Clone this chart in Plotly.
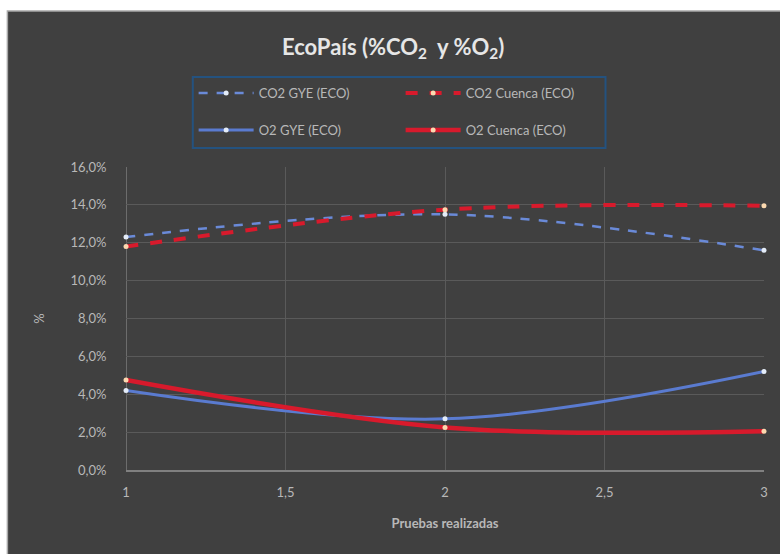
import plotly.graph_objects as go

x_vals = [1, 2, 3]
co2_gye = [12.3, 13.5, 11.6]
co2_cuenca = [11.8, 13.75, 13.95]
o2_gye = [4.2, 2.7, 5.2]
o2_cuenca = [4.75, 2.25, 2.05]

names = ["CO2 GYE (ECO)", "CO2 Cuenca (ECO)", "O2 GYE (ECO)", "O2 Cuenca (ECO)"]
y_ticks = [0, 2, 4, 6, 8, 10, 12, 14, 16]
y_ticktext = [f"{v:.1f}%".replace(".", ",") for v in y_ticks]
x_ticks = [1, 1.5, 2, 2.5, 3]
x_ticktext = ["1", "1,5", "2", "2,5", "3"]

BG = "#404040"
BLUE = "#5a7bd0"
RED = "#d81a2c"
TXT = "#b8b8b8"
FONT = "Lato"

fig = go.Figure()
fig.add_trace(go.Scatter(x=x_vals, y=co2_gye, name=names[0], mode="lines+markers",
                         line=dict(color="#6a8ad8", width=2.5, dash="dash", shape="spline"),
                         marker=dict(size=5, color="#e4ecf8"), legend="legend", cliponaxis=False))
fig.add_trace(go.Scatter(x=x_vals, y=co2_cuenca, name=names[1], mode="lines+markers",
                         line=dict(color=RED, width=4, dash="dash", shape="spline"),
                         marker=dict(size=5, color="#fbd9b0"), legend="legend", cliponaxis=False))
fig.add_trace(go.Scatter(x=x_vals, y=o2_gye, name=names[2], mode="lines+markers",
                         line=dict(color=BLUE, width=3, shape="spline"),
                         marker=dict(size=5, color="#e4ecf8"), legend="legend2", cliponaxis=False))
fig.add_trace(go.Scatter(x=x_vals, y=o2_cuenca, name=names[3], mode="lines+markers",
                         line=dict(color=RED, width=4.5, shape="spline"),
                         marker=dict(size=5, color="#fbd9b0"), legend="legend2", cliponaxis=False))

legend_common = dict(orientation="h", x=0.106, xanchor="left", yanchor="middle",
                     bgcolor="rgba(0,0,0,0)", borderwidth=0,
                     font=dict(family=FONT, size=13, color=TXT),
                     entrywidth=137, entrywidthmode="pixels", itemwidth=55,
                     traceorder="normal")

fig.update_layout(
    width=780, height=554,
    margin=dict(l=126, r=14, t=167, b=84),
    paper_bgcolor="white",
    plot_bgcolor="rgba(0,0,0,0)",
    separators=",.",
    title=dict(text="<b>EcoPaís (%CO<sub>2</sub>  y %O<sub>2</sub>)</b>", x=0.504, xanchor="center",
               y=0.915, yanchor="middle", font=dict(family=FONT, size=22, color="#e6e6e6")),
    legend=dict(y=1.244, **legend_common),
    legend2=dict(y=1.122, **legend_common),
    xaxis=dict(range=[0.9999, 3.0001], tickvals=x_ticks, ticktext=x_ticktext, showgrid=True,
               gridcolor="#5a5a5a", gridwidth=1, zeroline=False, showline=True, linecolor="#808080",
               linewidth=1.5, ticks="outside", ticklen=10, tickcolor="rgba(0,0,0,0)",
               tickfont=dict(family=FONT, size=13, color=TXT),
               title=dict(text="<b>Pruebas realizadas</b>", standoff=20,
                          font=dict(family=FONT, size=13, color=TXT))),
    yaxis=dict(range=[0, 16.001], tickvals=y_ticks, ticktext=y_ticktext, showgrid=True,
               gridcolor="#5a5a5a", gridwidth=1, zeroline=False, showline=False,
               ticks="outside", ticklen=16, tickcolor="rgba(0,0,0,0)",
               tickfont=dict(family=FONT, size=13, color=TXT),
               title=dict(text="%", standoff=22, font=dict(family=FONT, size=13, color=TXT))),
    shapes=[
        dict(type="rect", xref="paper", yref="paper", x0=-0.1859, x1=1.05, y0=-0.4, y1=1.5149,
             fillcolor=BG, line=dict(color="#a8a8a8", width=1.5), layer="below"),
        dict(type="rect", xref="paper", yref="paper", x0=0.1047, x1=0.7516, y0=1.0627, y1=1.297,
             fillcolor="rgba(0,0,0,0)", line=dict(color="#24527f", width=2), layer="below"),
        dict(type="line", xref="x", yref="paper", x0=1, x1=1, y0=0, y1=1,
             line=dict(color="#7a7a7a", width=1.5), layer="below"),
    ],
)

fig.write_html("out.html")
